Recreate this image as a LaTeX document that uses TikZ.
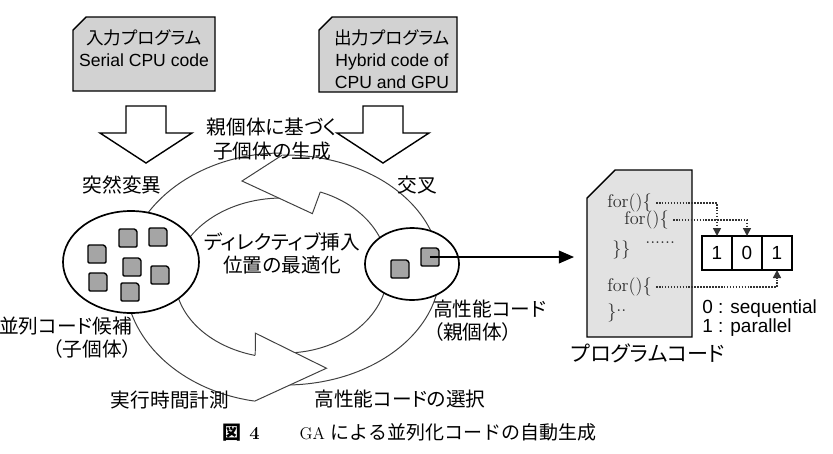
\documentclass[tikz,border=0pt]{standalone}
\usepackage{fontspec}
\usepackage{tikz}
\usetikzlibrary{arrows.meta,calc,positioning,shapes.geometric}
\newfontfamily\jp{Noto Sans CJK JP}[RawFeature=+palt]
\newfontfamily\jpm{Noto Sans CJK JP}
\newfontfamily\sans{Liberation Sans}
\definecolor{boxgray}{RGB}{210,210,210}
\definecolor{cardgray}{RGB}{226,226,226}
\definecolor{piecegray}{RGB}{165,165,165}
\definecolor{codegray}{RGB}{45,45,45}

\begin{document}
\begin{tikzpicture}[x=0.25mm,y=-0.25mm,>=Stealth,
  lbl/.style={font=\jp\fontsize{14}{16.5}\selectfont,inner sep=0pt,align=center},
  boxtxt/.style={font=\fontsize{12.5}{15.5}\selectfont,inner sep=0pt,align=center},
  docbox/.style={draw,line width=1pt,fill=boxgray},
  ring/.style={draw=black!75,line width=0.7pt},
  pool/.style={ellipse,draw,line width=1.2pt,fill=white,inner sep=0pt},
  piece/.style={draw,line width=1pt,fill=piecegray,rounded corners=0.8pt},
  code/.style={font=\fontsize{13}{15}\selectfont,text=codegray,inner sep=0pt,anchor=west},
  bit/.style={draw,line width=1pt,minimum width=7.5mm,minimum height=8.5mm,inner sep=0pt,outer sep=0pt,font=\sans\fontsize{13.5}{15}\selectfont},
  link/.style={densely dotted,line width=1.1pt,black!80,-{Triangle[length=2mm,width=2mm]}}]
  \useasboundingbox (0,0) rectangle (833,453);

  % input / output programs
  \filldraw[docbox] (73,30) -- (86,17) -- (215,17) -- (215,91) -- (73,91) -- cycle;
  \node[boxtxt] (inprog) at (144,48) {{\jp 入力プログラム}\\{\sans Serial CPU code}};
  \filldraw[docbox] (319,30) -- (332,17) -- (457,17) -- (457,92) -- (319,92) -- cycle;
  \node[boxtxt] (outprog) at (392,59) {{\jp 出力プログラム}\\{\sans Hybrid code of}\\{\sans CPU and GPU}};

  % block arrows
  \filldraw[fill=white,line width=1pt] (126,106) -- (166,106) -- (166,133) -- (192,133) -- (146,163) -- (100,133) -- (126,133) -- cycle;
  \filldraw[fill=white,line width=1pt] (363,106) -- (403,106) -- (403,133) -- (429,133) -- (383,163) -- (337,133) -- (363,133) -- cycle;

  % the cycle: right band, then left band, then the heads
  \begin{scope}[shift={(285,270)}]
    \fill[white] (89:155 and 115) arc[start angle=89,end angle=-91,x radius=155,y radius=115]
      -- (-70:103 and 83) arc[start angle=-70,end angle=86,x radius=103,y radius=83] -- cycle;
    \draw[ring] (89:155 and 115) arc[start angle=89,end angle=-91,x radius=155,y radius=115];
    \draw[ring] (86:103 and 83) arc[start angle=86,end angle=-70,x radius=103,y radius=83];
  \end{scope}
  \begin{scope}[shift={(282,278)}]
    \fill[white] (-90:157 and 125) arc[start angle=-90,end angle=-260,x radius=157,y radius=125]
      -- (-255.5:107 and 80) arc[start angle=-255.5,end angle=-90,x radius=107,y radius=80] -- cycle;
    \draw[ring] (-90:157 and 125) arc[start angle=-90,end angle=-260,x radius=157,y radius=125];
    \draw[ring] (-90:107 and 80) arc[start angle=-90,end angle=-255.5,x radius=107,y radius=80];
    \filldraw[ring,fill=white] (-255.5:107 and 80) -- (-252:86 and 58) -- (-290:130 and 96) -- (-260:157 and 125);
  \end{scope}
  \begin{scope}[shift={(285,270)}]
    \filldraw[ring,fill=white] (-70:103 and 83) -- (-70:80 and 60) -- (-43,-89) -- (-91:155 and 115);
  \end{scope}

  % populations
  \node[pool,minimum width=34mm,minimum height=25.5mm] (cand) at (131,262) {};
  \node[pool,minimum width=23.5mm,minimum height=18mm] (elite) at (412,264) {};
  \foreach \x/\y in {97/254,128/238,158/237,132/267,98/282,160/275,130/292,400/269,430/257}
    \filldraw[piece] (\x-9,\y+9) -- (\x-9,\y-9) -- (\x+5,\y-9) arc[start angle=-90,end angle=0,radius=4] -- (\x+9,\y+9) -- cycle;
  \coordinate (best) at (430,257);
  \coordinate (cardin) at (574,257);
  \draw[line width=1pt,-{Triangle[length=3.8mm,width=3.2mm]}] (best) -- (cardin);

  % program code
  \filldraw[fill=cardgray,line width=1pt] (587,198) -- (615,170) -- (692,170) -- (692,337) -- (587,337) -- cycle;
  \node[code] (for1) at (607,203) {for()\{};
  \node[code] (for2) at (624,220) {for()\{};
  \node[code] (close1) at (612,250) {\}\}};
  \node[code] (dots) at (645,243) {......};
  \node[code] (for3) at (607,287) {for()\{};
  \node[code] (close2) at (607,313) {\}\raisebox{0.8ex}{..}};

  \node[bit] (b1) at (717,253) {1};
  \node[bit,right=0pt of b1] (b2) {0};
  \node[bit,right=0pt of b2] (b3) {1};
  \draw[link] ([xshift=1mm]for1.east) -- (for1.east -| b1) -- (b1.north);
  \draw[link] ([xshift=1mm]for2.east) -- (for2.east -| b2) -- (b2.north);
  \draw[link] ([xshift=1mm]for3.east) -- (for3.east -| b3) -- (b3.south);
  \node[font=\sans\fontsize{13.5}{13.5}\selectfont,align=left,anchor=west,inner sep=0pt] (legend) at (702,318) {0 : sequential\\1 : parallel};

  % labels
  \node[lbl] (breed) at (272,139) {親個体に基づく\\子個体の生成};
  \node[lbl] (mut) at (122,185) {突然変異};
  \node[lbl] (cross) at (417,185) {交叉};
  \node[lbl] (opt) at (282,253) {ディレクティブ挿入\\位置の最適化};
  \node[lbl,align=right,anchor=east] (candlbl) at (132,338) {並列コード候補\\（子個体）};
  \node[lbl,align=left,anchor=west] (elitelbl) at (433,321) {高性能コード\\（親個体）};
  \node[lbl] (meas) at (170,400) {実行時間計測};
  \node[lbl] (sel) at (400,399) {高性能コードの選択};
  \node[lbl,font=\jp\fontsize{15}{17}\selectfont] (codelbl) at (648,353) {プログラムコード};

  \node[inner sep=0pt,anchor=west,font=\fontsize{12}{14}\selectfont] (cap) at (222,432)
    {{\jpm\bfseries\fontsize{13.5}{15}\selectfont 図}\hspace{2mm}{\bfseries\fontsize{13}{15}\selectfont 4}\hspace{10mm}GA\hspace{1.5mm}{\jpm\fontsize{13.5}{15}\selectfont による並列化コードの自動生成}};
\end{tikzpicture}
\end{document}
